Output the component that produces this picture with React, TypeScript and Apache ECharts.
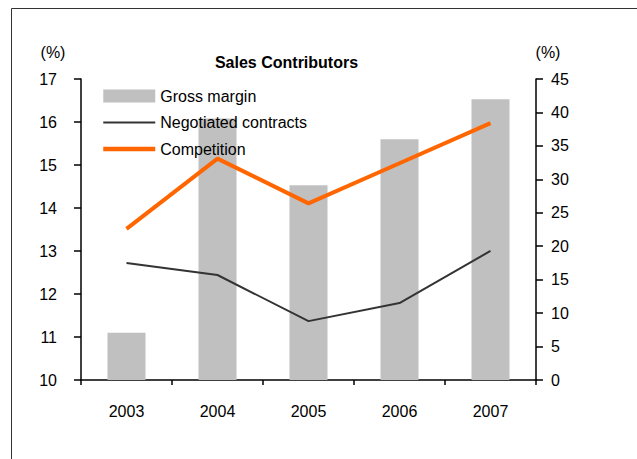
import React, { useEffect, useRef } from "react";
import * as echarts from "echarts";

const categories = ["2003", "2004", "2005", "2006", "2007"];
const grossMargin = [11.1, 16.08, 14.53, 15.6, 16.53];
const negotiatedContracts = [17.5, 15.7, 8.8, 11.5, 19.3];
const competition = [22.6, 33.1, 26.4, 32.4, 38.4];
const leftTicks = { min: 10, max: 17, interval: 1 };
const rightTicks = { min: 0, max: 45, interval: 5 };

const FONT = "Liberation Sans, Arial, sans-serif";

export default function App() {
  const ref = useRef<HTMLDivElement>(null);
  useEffect(() => {
    document.body.style.margin = "0";
    const chart = echarts.init(ref.current!, undefined, { renderer: "svg" });
    chart.setOption({
      animation: false,
      backgroundColor: "#ffffff",
      textStyle: { fontFamily: FONT },
      grid: { left: 81, right: 101, top: 79, bottom: 79, containLabel: false },
      legend: {
        orient: "vertical",
        left: 101,
        top: 88,
        padding: 0,
        itemWidth: 52,
        itemHeight: 13,
        itemGap: 10.5,
        textStyle: { fontSize: 16, color: "#000", fontFamily: FONT, lineHeight: 16 },
        data: [
          { name: "Gross margin", icon: "rect" },
          { name: "Negotiated contracts", itemStyle: { opacity: 0 }, lineStyle: { width: 2, color: "#333333" } },
          { name: "Competition", itemStyle: { opacity: 0 }, lineStyle: { width: 4.5, color: "#FF6600" } },
        ],
      },
      xAxis: {
        type: "category",
        data: categories,
        boundaryGap: true,
        axisLine: { lineStyle: { color: "#000", width: 1.5 } },
        axisTick: { show: true, length: 5, alignWithLabel: false, lineStyle: { color: "#000", width: 1.5 } },
        axisLabel: { fontSize: 16, color: "#000", margin: 23, fontFamily: FONT },
      },
      yAxis: [
        {
          type: "value",
          position: "left",
          min: leftTicks.min,
          max: leftTicks.max,
          interval: leftTicks.interval,
          splitLine: { show: false },
          axisLine: { show: true, lineStyle: { color: "#000", width: 1.5 } },
          axisTick: { show: true, length: 7, lineStyle: { color: "#000", width: 1.5 } },
          axisLabel: { fontSize: 16, color: "#000", margin: 24, fontFamily: FONT },
        },
        {
          type: "value",
          position: "right",
          min: rightTicks.min,
          max: rightTicks.max,
          interval: rightTicks.interval,
          splitLine: { show: false },
          axisLine: { show: true, lineStyle: { color: "#000", width: 1.5 } },
          axisTick: { show: true, length: 7, lineStyle: { color: "#000", width: 1.5 } },
          axisLabel: { fontSize: 16, color: "#000", margin: 15, fontFamily: FONT },
        },
      ],
      series: [
        {
          name: "Gross margin",
          type: "bar",
          yAxisIndex: 0,
          data: grossMargin,
          barWidth: 38,
          itemStyle: { color: "#C0C0C0" },
        },
        {
          name: "Negotiated contracts",
          type: "line",
          yAxisIndex: 1,
          data: negotiatedContracts,
          symbol: "none",
          lineStyle: { color: "#333333", width: 2 },
          itemStyle: { color: "#333333" },
        },
        {
          name: "Competition",
          type: "line",
          yAxisIndex: 1,
          data: competition,
          symbol: "none",
          lineStyle: { color: "#FF6600", width: 4 },
          itemStyle: { color: "#FF6600" },
        },
      ],
      graphic: [
        { type: "line", shape: { x1: 11.5, y1: 8.5, x2: 637, y2: 8.5 }, style: { stroke: "#333", lineWidth: 1 } },
        { type: "line", shape: { x1: 11.5, y1: 8.5, x2: 11.5, y2: 459 }, style: { stroke: "#333", lineWidth: 1 } },
        {
          type: "text",
          x: 286.5,
          y: 62,
          style: { text: "Sales Contributors", font: "bold 16px " + FONT, fill: "#000", textAlign: "center", textVerticalAlign: "middle" },
        },
        {
          type: "text",
          x: 53,
          y: 52,
          style: { text: "(%)", font: "16px " + FONT, fill: "#000", textAlign: "center", textVerticalAlign: "middle" },
        },
        {
          type: "text",
          x: 548,
          y: 52,
          style: { text: "(%)", font: "16px " + FONT, fill: "#000", textAlign: "center", textVerticalAlign: "middle" },
        },
      ],
    });
    return () => chart.dispose();
  }, []);
  return <div ref={ref} style={{ position: "fixed", left: 0, top: 0, width: 637, height: 459 }} />;
}
